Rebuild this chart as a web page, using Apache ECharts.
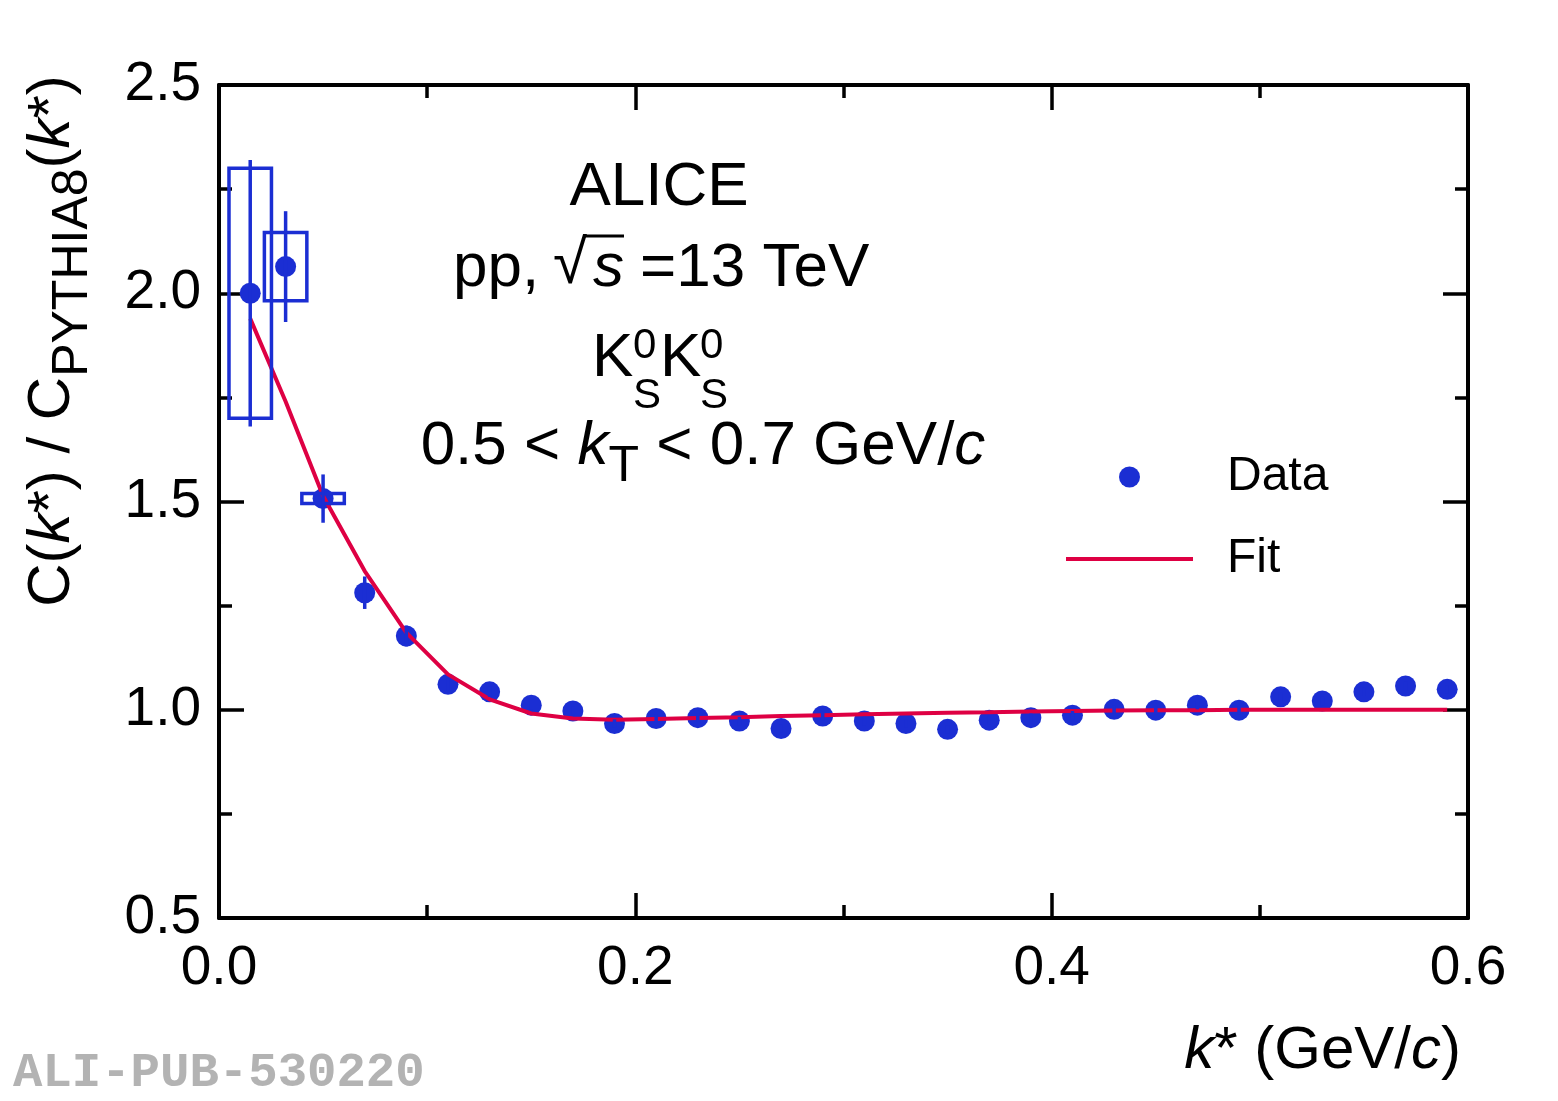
<!DOCTYPE html>
<html>
<head>
<meta charset="utf-8">
<title>K0S K0S correlation / PYTHIA8</title>
<script src="https://cdn.jsdelivr.net/npm/echarts@6/dist/echarts.min.js"></script>
<style>
html, body { margin: 0; padding: 0; background: #fff; }
#main { width: 1558px; height: 1101px; }
</style>
</head>
<body>
<div id="main"></div>
<script>
// k* bin centres (GeV/c) and C(k*)/C_PYTHIA8(k*)
var kStar = [0.015, 0.032, 0.05, 0.07, 0.09, 0.11, 0.13, 0.15, 0.17, 0.19,
             0.21, 0.23, 0.25, 0.27, 0.29, 0.31, 0.33, 0.35, 0.37, 0.39,
             0.41, 0.43, 0.45, 0.47, 0.49, 0.51, 0.53, 0.55, 0.57, 0.59];
var ratio = [2.000, 2.064, 1.507, 1.281, 1.177, 1.061, 1.043, 1.011, 0.997, 0.967,
             0.979, 0.981, 0.973, 0.955, 0.985, 0.973, 0.967, 0.953, 0.975, 0.981,
             0.987, 1.001, 0.999, 1.011, 0.999, 1.031, 1.021, 1.043, 1.057, 1.049];
var statErr = [0.320, 0.133, 0.058, 0.039, 0.025, 0.015, 0.012, 0.010, 0.010, 0.010,
               0.010, 0.010, 0.010, 0.010, 0.010, 0.010, 0.010, 0.010, 0.010, 0.010,
               0.010, 0.010, 0.010, 0.010, 0.010, 0.010, 0.010, 0.010, 0.010, 0.010];
var systErr = [0.300, 0.082, 0.012, 0, 0, 0, 0, 0, 0, 0,
               0, 0, 0, 0, 0, 0, 0, 0, 0, 0,
               0, 0, 0, 0, 0, 0, 0, 0, 0, 0];
var systHalfWidth = 0.0102;

// fit curve
var fitK = [0.015, 0.032, 0.05, 0.07, 0.09, 0.11, 0.13, 0.15, 0.17, 0.19,
            0.21, 0.23, 0.25, 0.27, 0.29, 0.31, 0.33, 0.35, 0.37, 0.39,
            0.41, 0.43, 0.45, 0.47, 0.49, 0.51, 0.53, 0.55, 0.57, 0.59];
var fitC = [1.939, 1.740, 1.513, 1.333, 1.185, 1.085, 1.025, 0.991, 0.979, 0.976,
            0.978, 0.980, 0.982, 0.985, 0.987, 0.989, 0.991, 0.993, 0.994, 0.996,
            0.997, 0.998, 0.999, 0.999, 1.000, 1.000, 1.000, 1.000, 1.000, 1.000];

var BLUE = '#1b2ed3';
var RED = '#de0043';
var FONT = '"Liberation Sans", Arial, Helvetica, sans-serif';

var chart = echarts.init(document.getElementById('main'));

var pointData = kStar.map(function (k, i) { return [k, ratio[i]]; });
var errData = kStar.map(function (k, i) { return [k, ratio[i], statErr[i], systErr[i]]; });
var fitData = fitK.map(function (k, i) { return [k, fitC[i]]; });

var renderErrors = function (params, api) {
    var x = api.value(0), y = api.value(1), st = api.value(2), sy = api.value(3);
    var style = { stroke: BLUE, lineWidth: 3.5, fill: 'none' };
    var children = [];
    if (sy > 0) {
        var a = api.coord([x - systHalfWidth, y + sy]);
        var b = api.coord([x + systHalfWidth, y - sy]);
        children.push({
            type: 'rect',
            shape: { x: a[0], y: a[1], width: b[0] - a[0], height: b[1] - a[1] },
            style: style
        });
    }
    var top = api.coord([x, y + st]);
    var bot = api.coord([x, y - st]);
    children.push({
        type: 'line',
        shape: { x1: top[0], y1: top[1], x2: bot[0], y2: bot[1] },
        style: style
    });
    return { type: 'group', children: children };
};

var axisCommon = function (showLabel, position) {
    return {
        type: 'value',
        position: position,
        axisLine: { show: true, onZero: false, lineStyle: { color: '#000', width: 4 } },
        axisTick: { show: true, inside: true, length: 25, lineStyle: { color: '#000', width: 3.5 } },
        minorTick: { show: true, splitNumber: 2, length: 13, lineStyle: { color: '#000', width: 3.5 } },
        splitLine: { show: false },
        minorSplitLine: { show: false },
        axisLabel: {
            show: showLabel,
            fontSize: 55,
            fontFamily: FONT,
            color: '#000',
            showMinLabel: true,
            showMaxLabel: true,
            formatter: function (v) { return v.toFixed(1); }
        }
    };
};

var xBottom = axisCommon(true, 'bottom');
xBottom.min = 0; xBottom.max = 0.6; xBottom.interval = 0.2;
xBottom.axisLabel.margin = 23;
var xTop = axisCommon(false, 'top');
xTop.min = 0; xTop.max = 0.6; xTop.interval = 0.2;

var yLeft = axisCommon(true, 'left');
yLeft.min = 0.5; yLeft.max = 2.5; yLeft.interval = 0.5;
yLeft.axisLabel.margin = 18;
var yRight = axisCommon(false, 'right');
yRight.min = 0.5; yRight.max = 2.5; yRight.interval = 0.5;

var textEl = function (x, y, text, size, align, extra) {
    var st = {
        text: text, fontSize: size, fontFamily: FONT, fill: '#000',
        align: align, textAlign: align,
        verticalAlign: 'middle', textVerticalAlign: 'middle'
    };
    if (extra) { for (var key in extra) { st[key] = extra[key]; } }
    return { type: 'text', x: x, y: y, z: 10, style: st };
};

var graphics = [
    textEl(659, 188, 'ALICE', 62, 'center'),
    textEl(453, 269, 'pp,', 62, 'left'),
    textEl(553, 266, '\u221A', 62, 'left'),
    textEl(593, 269, 's', 62, 'left', { fontStyle: 'italic' }),
    textEl(640, 269, '=13 TeV', 62, 'left'),
    {
        type: 'line', z: 10,
        shape: { x1: 584, y1: 236, x2: 624, y2: 236 },
        style: { stroke: '#000', lineWidth: 3 }
    },
    textEl(592, 359, 'K', 62, 'left'),
    textEl(633, 346, '0', 42, 'left'),
    textEl(633, 396, 'S', 42, 'left'),
    textEl(660, 359, 'K', 62, 'left'),
    textEl(700, 346, '0', 42, 'left'),
    textEl(700, 396, 'S', 42, 'left'),
    textEl(703, 447, '{m|0.5 < }{i|k}{s|T}{m| < 0.7 GeV/}{i|c}', 62, 'center', {
        rich: {
            m: { fontSize: 62, fontFamily: FONT },
            i: { fontSize: 62, fontFamily: FONT, fontStyle: 'italic' },
            s: { fontSize: 50, fontFamily: FONT, padding: [40, 0, 0, 0] }
        }
    }),
    textEl(1461, 1051, '{i|k}{m|* (GeV/}{i|c}{m|)}', 60, 'right', {
        rich: {
            m: { fontSize: 60, fontFamily: FONT },
            i: { fontSize: 60, fontFamily: FONT, fontStyle: 'italic' }
        }
    }),
    {
        type: 'text', x: 52, y: 341, rotation: Math.PI / 2, z: 10,
        style: {
            text: '{m|C(}{i|k}{m|*) / C}{s|PYTHIA8}{m|(}{i|k}{m|*)}',
            fill: '#000', align: 'center', textAlign: 'center',
            verticalAlign: 'middle', textVerticalAlign: 'middle',
            rich: {
                m: { fontSize: 60, fontFamily: FONT },
                i: { fontSize: 60, fontFamily: FONT, fontStyle: 'italic' },
                s: { fontSize: 50, fontFamily: FONT, padding: [42, 0, 0, 0] }
            }
        }
    },
    textEl(13, 1074, 'ALI-PUB-530220', 49, 'left', {
        fontFamily: '"Liberation Mono", "DejaVu Sans Mono", monospace',
        fontWeight: 'bold', fill: '#b3b3b3'
    })
];

chart.setOption({
    animation: false,
    backgroundColor: '#fff',
    grid: { left: 219, right: 90, top: 85, bottom: 183, containLabel: false },
    xAxis: [xBottom, xTop],
    yAxis: [yLeft, yRight],
    legend: {
        orient: 'vertical',
        left: 1066,
        top: 452,
        padding: 0,
        itemWidth: 127,
        itemHeight: 21,
        itemGap: 32,
        textStyle: { fontSize: 48, fontFamily: FONT, color: '#000', lineHeight: 50, padding: [0, 0, 0, 29] },
        data: [
            { name: 'Data', icon: 'circle' },
            { name: 'Fit', icon: 'path://M0,0L127,0L127,4L0,4Z' }
        ]
    },
    series: [
        {
            name: 'Data',
            type: 'scatter',
            data: pointData,
            symbol: 'circle',
            symbolSize: 21,
            itemStyle: { color: BLUE, opacity: 1 },
            z: 2
        },
        {
            name: 'Fit',
            type: 'line',
            data: fitData,
            symbol: 'none',
            smooth: false,
            lineStyle: { color: RED, width: 4 },
            itemStyle: { color: RED },
            z: 3
        },
        {
            name: 'errors',
            type: 'custom',
            data: errData,
            renderItem: renderErrors,
            encode: { x: 0, y: 1 },
            z: 4,
            silent: true
        }
    ],
    graphic: graphics
});
</script>
</body>
</html>
